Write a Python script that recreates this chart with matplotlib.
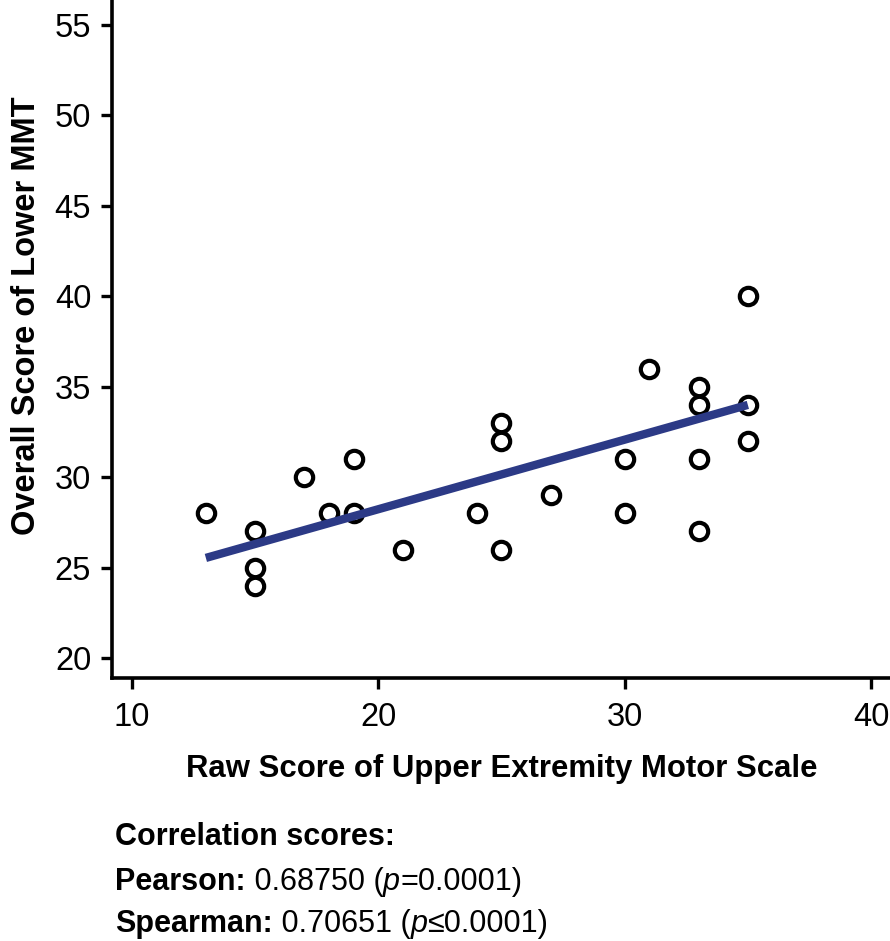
import numpy as np
import matplotlib
matplotlib.use("Agg")
import matplotlib.pyplot as plt

plt.rcParams['font.family'] = ['Liberation Sans', 'DejaVu Sans']

# data
upper_raw = [13, 15, 15, 15, 17, 18, 19, 19, 21, 24, 25, 25, 25, 27,
             30, 30, 31, 33, 33, 33, 33, 35, 35, 35]
lower_mmt = [28, 27, 25, 24, 30, 28, 31, 28, 26, 28, 33, 32, 26, 29,
             31, 28, 36, 35, 34, 31, 27, 40, 34, 32]
# regression line as drawn in the reference (slope, intercept)
fit_slope = 0.3845
fit_icpt = 20.54
x_ticks = [10, 20, 30, 40]
y_ticks = [20, 25, 30, 35, 40, 45, 50, 55]

fig = plt.figure(figsize=(8.9, 9.41), dpi=100)
ax = fig.add_axes([112 / 890, (941 - 678) / 941, 1 - 112 / 890, 678 / 941])

ax.plot(upper_raw, lower_mmt, 'o', ms=12.5, mfc='white', mec='black',
        mew=3.0, zorder=3, clip_on=False)

fx = np.array([min(upper_raw), max(upper_raw)])
ax.plot(fx, fit_slope * fx + fit_icpt, color='#2c3a86', lw=6, zorder=4,
        solid_capstyle='butt')

ax.set_xlim(9.19, 40.77)
ax.set_ylim(18.9, 56.38)
ax.set_xticks(x_ticks)
ax.set_yticks(y_ticks)
ax.tick_params(length=8, width=2.4, labelsize=23.5, pad=7, direction='out')
ax.tick_params(axis='x', pad=9)

for s in ['top', 'right']:
    ax.spines[s].set_visible(False)
for s in ['left', 'bottom']:
    ax.spines[s].set_linewidth(2.6)

fig.text(502 / 890, 1 - 777 / 941, 'Raw Score of Upper Extremity Motor Scale',
         fontsize=22.4, fontweight='bold', ha='center', va='baseline')
fig.text(27 / 890, 1 - 316 / 941, 'Overall Score of Lower MMT',
         fontsize=23.5, fontweight='bold', ha='center', va='center',
         rotation=90)

# correlation summary
fs = 22
fig.text(115 / 890, 1 - 845 / 941, 'Correlation scores:', fontsize=fs,
         fontweight='bold', va='baseline')


def line_of(y, parts):
    prev = fig.text(115 / 890, 1 - y / 941, parts[0][0], fontsize=fs,
                    fontweight=parts[0][1], fontstyle=parts[0][2], va='baseline')
    for txt, wt, st in parts[1:]:
        prev = ax.annotate(txt, xy=(1, 0), xycoords=prev, fontsize=fs,
                           fontweight=wt, fontstyle=st, va='bottom',
                           annotation_clip=False)


line_of(890, [('Pearson:', 'bold', 'normal'), (' 0.68750 (', 'normal', 'normal'),
              ('p', 'normal', 'italic'), ('=0.0001)', 'normal', 'normal')])
line_of(932, [('Spearman:', 'bold', 'normal'), (' 0.70651 (', 'normal', 'normal'),
              ('p', 'normal', 'italic'), ('\u22640.0001)', 'normal', 'normal')])

fig.savefig('out.png', dpi=100)
